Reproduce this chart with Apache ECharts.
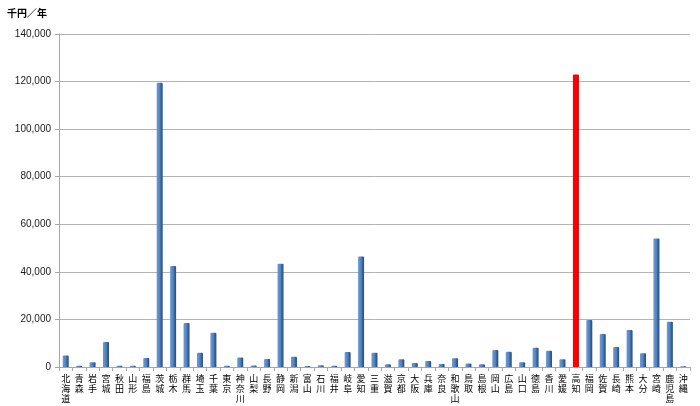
<!DOCTYPE html>
<html><head><meta charset="utf-8">
<script src="https://cdn.jsdelivr.net/npm/echarts@6/dist/echarts.min.js"></script>
<style>html,body{margin:0;padding:0;background:#fff}#c{width:700px;height:406px}</style>
</head><body><div id="c"></div>
<script>
const prefectures = ['北海道','青森','岩手','宮城','秋田','山形','福島','茨城','栃木','群馬','埼玉','千葉','東京','神奈川','山梨','長野','静岡','新潟','富山','石川','福井','岐阜','愛知','三重','滋賀','京都','大阪','兵庫','奈良','和歌山','鳥取','島根','岡山','広島','山口','徳島','香川','愛媛','高知','福岡','佐賀','長崎','熊本','大分','宮崎','鹿児島','沖縄'];
const values = [4800,500,2000,10500,500,500,3800,119500,42500,18500,6000,14400,500,4000,600,3400,43400,4300,400,700,500,6300,46500,6000,1200,3300,1700,2500,1300,3700,1500,1200,7100,6400,2000,8100,6800,3300,123000,19800,13900,8400,15600,5800,54000,19000,300];
const highlight = '高知';
const yTicks = {min:0, max:140000, interval:20000};
const unitLabel = '千円／年';

const blueGrad = new echarts.graphic.LinearGradient(0,0,1,0,[
  {offset:0,color:'#6e9bd6'},{offset:0.55,color:'#4f81bd'},{offset:0.7,color:'#3a6499'},{offset:1,color:'#2c4f7c'}]);
const redGrad = new echarts.graphic.LinearGradient(0,0,1,0,[
  {offset:0,color:'#ff0000'},{offset:0.7,color:'#ff0000'},{offset:1,color:'#c00000'}]);

const chart = echarts.init(document.getElementById('c'), null, {renderer:'canvas'});
chart.setOption({
  animation:false,
  grid:{left:59,right:10,top:34,bottom:39,containLabel:false},
  graphic:[{type:'text',left:7,top:8,style:{text:unitLabel,font:'bold 10px "Noto Sans CJK JP"',fill:'#000'}}],
  xAxis:{
    type:'category',data:prefectures,
    axisLine:{show:true,lineStyle:{color:'#a6a6a6'}},
    axisTick:{show:true,length:4,lineStyle:{color:'#a6a6a6'}},
    axisLabel:{interval:0,rotate:0,hideOverlap:false,margin:7,color:'#000',
      formatter:v=>v.split('').join('\n'),
      fontSize:9,lineHeight:10,fontFamily:'"Noto Sans CJK JP"'}
  },
  yAxis:{
    type:'value',min:yTicks.min,max:yTicks.max,interval:yTicks.interval,
    axisLine:{show:true,lineStyle:{color:'#a6a6a6'}},
    axisTick:{show:true,length:4,lineStyle:{color:'#a6a6a6'}},
    splitLine:{lineStyle:{color:'#b3b3b3',width:1}},
    axisLabel:{fontSize:10,color:'#1a1a1a',fontFamily:'"Liberation Sans"',margin:8,
      formatter:v=>v.toLocaleString('en-US')}
  },
  series:[{
    type:'bar',barWidth:6,
    data:values.map((v,i)=>({value:v,itemStyle:{color:prefectures[i]===highlight?redGrad:blueGrad}})),
    itemStyle:{borderRadius:[1,1,0,0]}
  }]
});
</script></body></html>
